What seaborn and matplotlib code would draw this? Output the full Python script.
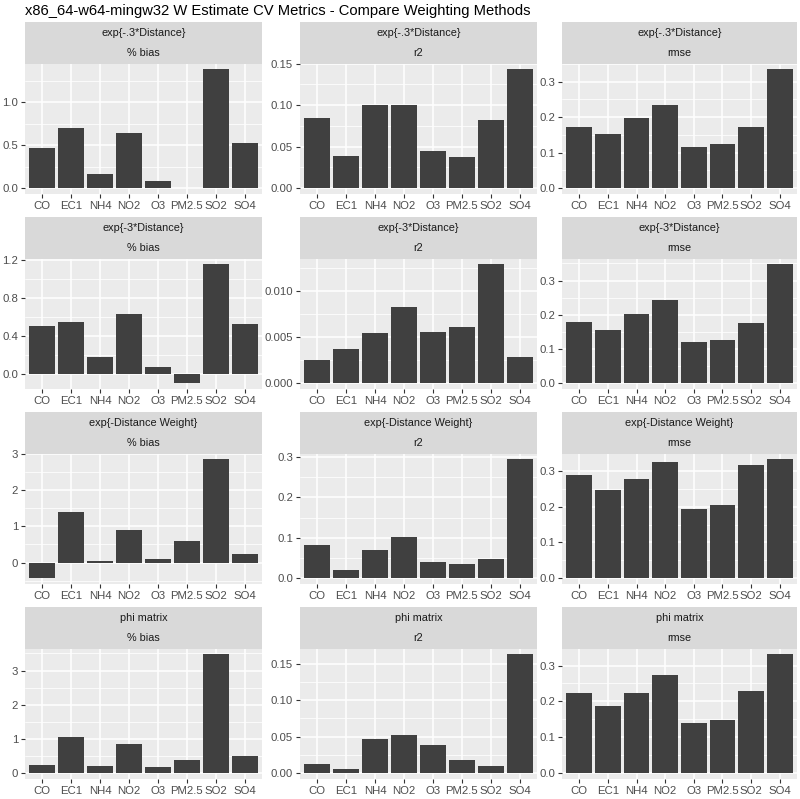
import numpy as np
import pandas as pd
import seaborn as sns
import matplotlib.pyplot as plt
from matplotlib.ticker import FixedLocator

plt.switch_backend('Agg')

pollutants = ['CO', 'EC1', 'NH4', 'NO2', 'O3', 'PM2.5', 'SO2', 'SO4']
methods = ['exp{-.3*Distance}', 'exp{-3*Distance}', 'exp{-Distance Weight}', 'phi matrix']
metrics = ['% bias', 'r2', 'rmse']

# exp{-.3*Distance}
bias_p3 = [0.465, 0.694, 0.167, 0.636, 0.081, 0.005, 1.38, 0.523]
r2_p3 = [0.0847, 0.039, 0.100, 0.100, 0.045, 0.0373, 0.0815, 0.143]
rmse_p3 = [0.171, 0.152, 0.196, 0.233, 0.117, 0.124, 0.171, 0.334]

# exp{-3*Distance}
bias_3 = [0.507, 0.553, 0.178, 0.630, 0.077, -0.094, 1.158, 0.525]
r2_3 = [0.00248, 0.0037, 0.00543, 0.00827, 0.0055, 0.00604, 0.01288, 0.00284]
rmse_3 = [0.179, 0.155, 0.203, 0.244, 0.119, 0.126, 0.177, 0.347]

# exp{-Distance Weight}
bias_dw = [-0.43, 1.40, 0.046, 0.89, 0.09, 0.587, 2.85, 0.23]
r2_dw = [0.081, 0.020, 0.070, 0.103, 0.041, 0.035, 0.048, 0.294]
rmse_dw = [0.288, 0.247, 0.279, 0.327, 0.194, 0.204, 0.316, 0.333]

# phi matrix
bias_phi = [0.24, 1.045, 0.22, 0.86, 0.165, 0.38, 3.47, 0.50]
r2_phi = [0.0128, 0.0055, 0.0474, 0.052, 0.0387, 0.0182, 0.0091, 0.163]
rmse_phi = [0.223, 0.186, 0.222, 0.274, 0.139, 0.149, 0.228, 0.331]

# y tick labels per facet (row = method, col = metric)
yticks_p3 = [['0.0', '0.5', '1.0'], ['0.00', '0.05', '0.10', '0.15'], ['0.0', '0.1', '0.2', '0.3']]
yticks_3 = [['0.0', '0.4', '0.8', '1.2'], ['0.000', '0.005', '0.010'], ['0.0', '0.1', '0.2', '0.3']]
yticks_dw = [['0', '1', '2', '3'], ['0.0', '0.1', '0.2', '0.3'], ['0.0', '0.1', '0.2', '0.3']]
yticks_phi = [['0', '1', '2', '3'], ['0.00', '0.05', '0.10', '0.15'], ['0.0', '0.1', '0.2', '0.3']]

title = 'x86_64-w64-mingw32 W Estimate CV Metrics - Compare Weighting Methods'

series = {
    methods[0]: [bias_p3, r2_p3, rmse_p3],
    methods[1]: [bias_3, r2_3, rmse_3],
    methods[2]: [bias_dw, r2_dw, rmse_dw],
    methods[3]: [bias_phi, r2_phi, rmse_phi],
}
ytick_labels = [yticks_p3, yticks_3, yticks_dw, yticks_phi]

rows = []
for m in methods:
    for met, vals in zip(metrics, series[m]):
        for p, v in zip(pollutants, vals):
            rows.append({'method': m, 'metric': met, 'pollutant': p, 'value': v})
df = pd.DataFrame(rows)

sns.set_theme(style='darkgrid', rc={'axes.facecolor': '#EBEBEB', 'grid.color': 'white'})
plt.rcParams['font.family'] = ['Liberation Sans', 'DejaVu Sans']

W, H = 800, 799
fig = plt.figure(figsize=(8, 7.99), dpi=100)
fig.patch.set_facecolor('white')

col_left = [25, 300, 562]
col_right = [262, 537, 797]
row_top = [22, 217, 412, 607]
strip_h = 41.5
panel_h = 130.5
bar_color = '#404040'

fig.text(25 / W, 1 - 11 / H, title, fontsize=10.6, ha='left', va='center', color='black')

for i, m in enumerate(methods):
    for j, met in enumerate(metrics):
        sub = df[(df['method'] == m) & (df['metric'] == met)]
        left, right, top = col_left[j], col_right[j], row_top[i]
        ax = fig.add_axes([left / W, 1 - (top + strip_h + panel_h) / H,
                           (right - left) / W, panel_h / H])
        sns.barplot(data=sub, x='pollutant', y='value', order=pollutants,
                    color=bar_color, saturation=1, width=0.9, linewidth=0, ax=ax)
        vmin = min(0, sub['value'].min())
        vmax = max(0, sub['value'].max())
        pad = 0.05 * (vmax - vmin)
        ax.set_ylim(vmin - pad, vmax + pad)
        ax.set_xlim(-0.6, len(pollutants) - 0.4)

        labels = ytick_labels[i][j]
        ticks = [float(t) for t in labels]
        ax.set_yticks(ticks)
        ax.set_yticklabels(labels)
        step = ticks[1] - ticks[0]
        minor = [t + step / 2 for t in [ticks[0] - step] + ticks]
        ax.yaxis.set_minor_locator(FixedLocator(minor))

        ax.set_facecolor('#EBEBEB')
        ax.grid(True, which='major', color='white', lw=1.1)
        ax.grid(True, which='minor', axis='y', color='white', lw=0.55)
        ax.xaxis.grid(True, which='major', color='white', lw=1.1)
        ax.set_axisbelow(True)
        for s in ax.spines.values():
            s.set_visible(False)
        ax.tick_params(which='major', length=3, width=0.8, color='#333333',
                       labelcolor='#4D4D4D', labelsize=8.2, pad=2, left=True, bottom=True)
        ax.tick_params(which='minor', length=0)
        ax.set_xlabel('')
        ax.set_ylabel('')

        # facet strip with the two labels
        sax = fig.add_axes([left / W, 1 - (top + strip_h) / H,
                            (right - left) / W, strip_h / H])
        sax.set_facecolor('#D9D9D9')
        sax.set_xticks([])
        sax.set_yticks([])
        sax.grid(False)
        for s in sax.spines.values():
            s.set_visible(False)
        sax.text(0.5, 0.74, m, ha='center', va='center', fontsize=7.8, color='#1A1A1A')
        sax.text(0.5, 0.25, met, ha='center', va='center', fontsize=7.8, color='#1A1A1A')

fig.savefig('out.png', dpi=100)
